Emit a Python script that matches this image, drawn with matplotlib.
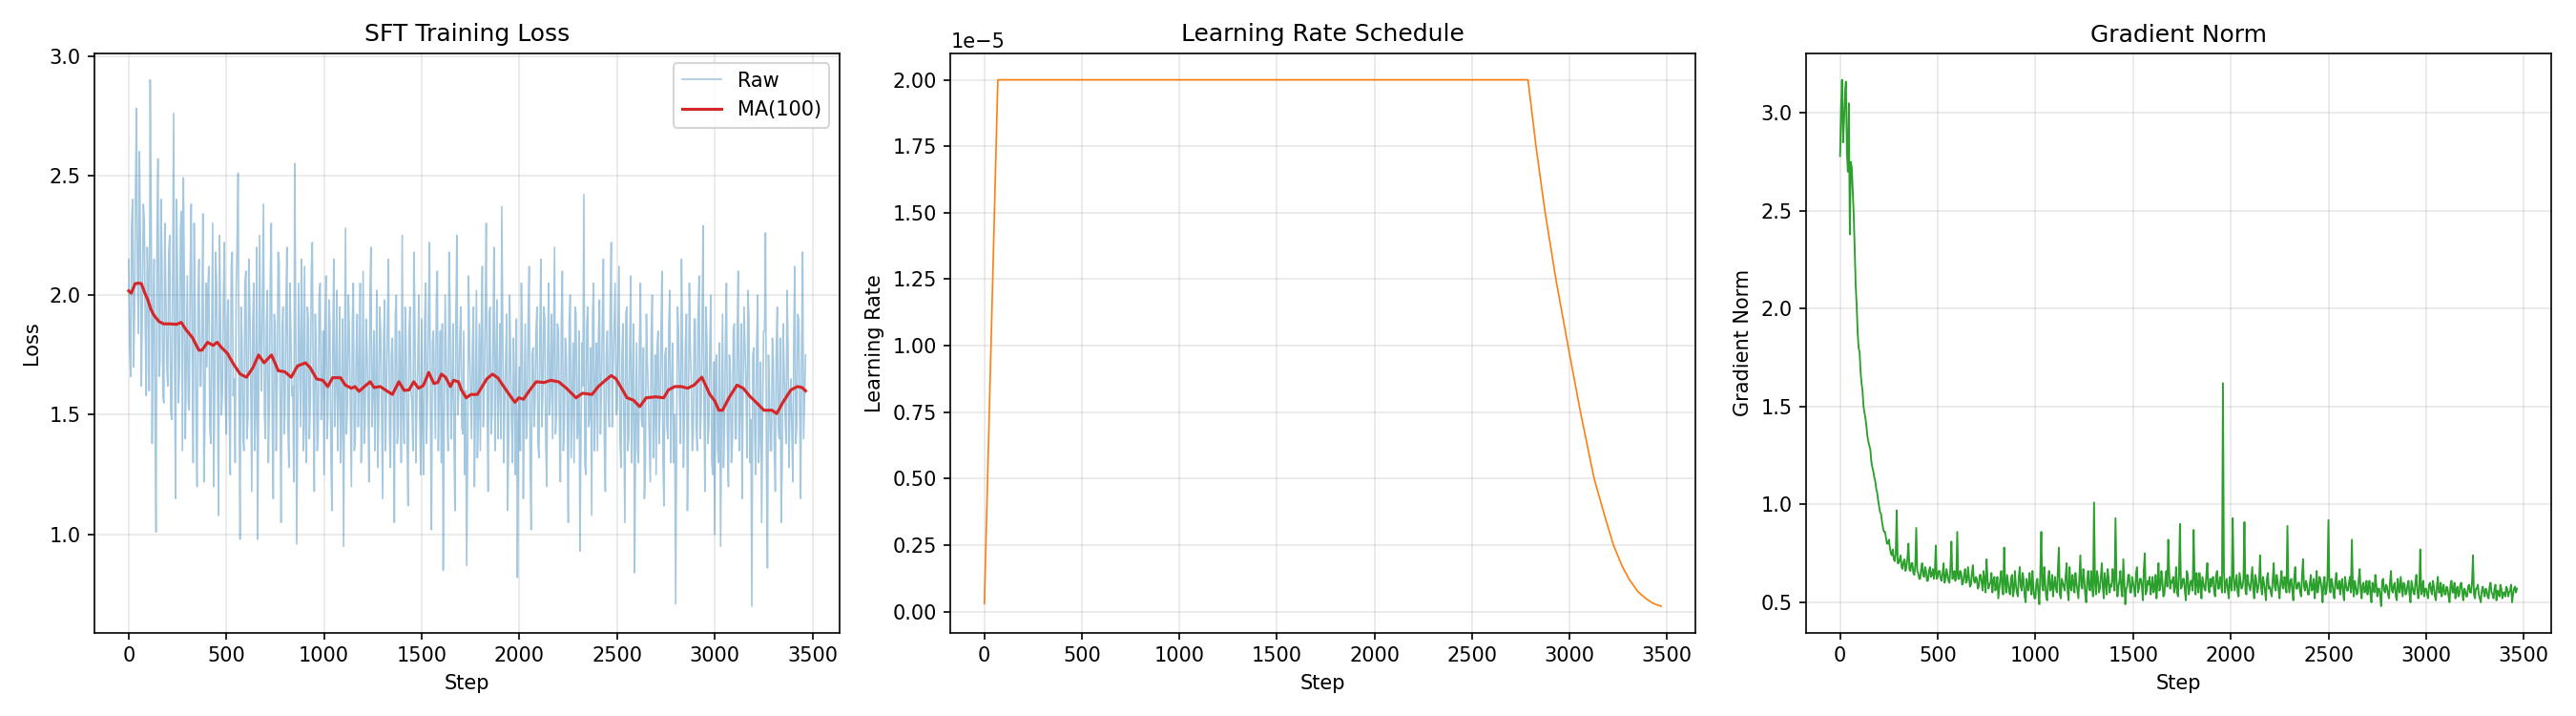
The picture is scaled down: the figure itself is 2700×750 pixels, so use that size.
import numpy as np
import matplotlib
matplotlib.use("Agg")
import matplotlib.pyplot as plt

# raw loss; steps 0, 10, 20, ...
raw_loss_a = [
    2.15, 1.66, 2.40, 1.92, 2.78, 1.84, 2.22, 1.95, 2.31, 1.58,
    2.05, 2.90, 1.38, 2.15, 1.01, 2.57, 1.72, 2.18, 1.55, 2.02,
    1.62, 2.25, 1.48, 2.76, 1.15, 2.10, 1.70, 2.35, 2.49, 1.40,
    2.08, 1.52, 2.38, 1.30, 1.95, 1.20, 2.15, 1.62, 2.34, 1.45,
    1.70, 2.12, 1.38, 2.30, 1.55, 2.05, 1.08, 1.90, 1.60, 2.22,
    1.42, 1.98, 1.25, 2.18, 1.65, 2.00, 2.51, 0.98, 1.82, 1.35,
    2.10, 1.48, 1.95, 1.18, 2.05, 1.52, 0.98, 2.25, 1.60, 2.38,
    1.40, 2.02, 1.55, 2.30, 1.15, 1.88, 1.62, 2.14, 1.05, 1.95,
    1.50, 2.20, 1.28, 1.85, 1.62, 2.55, 0.96, 2.05, 1.45, 1.78,
    2.12, 1.30, 1.90, 1.55, 2.22, 1.18, 1.75, 1.42, 2.05, 1.60,
    1.25, 2.08, 1.50, 1.88, 1.10, 2.15, 1.62, 1.35, 1.95, 1.48,
    0.95, 2.28, 1.55, 1.82, 1.20, 2.05, 1.40, 1.92, 1.68, 1.30,
    2.10, 1.45, 1.78, 1.22, 2.20, 1.58, 1.35, 2.02, 1.50, 1.85,
    1.15, 1.98, 1.60, 2.15, 1.28, 1.82, 1.05, 2.00, 1.45, 1.70,
    2.25, 1.38, 1.80, 1.12, 1.95, 1.55, 2.18, 1.30, 1.72, 1.48,
    1.90, 1.25, 2.05, 1.58, 2.22, 1.02, 1.85, 1.40, 2.10, 1.62,
    1.30, 0.85, 2.00, 1.52, 2.18, 1.40, 1.88, 1.10, 2.25, 1.60,
    1.95, 1.42, 1.25, 0.87, 2.08, 1.58, 1.80, 1.20, 2.02, 1.50,
    1.35, 2.12, 1.62, 2.30, 1.18, 1.95, 1.50, 2.20, 1.72, 1.40,
    1.88, 2.37, 1.30, 1.75, 1.10, 2.00, 1.45, 1.82, 1.25, 0.82,
    1.70, 2.05, 1.15, 1.88, 1.48, 2.12, 1.02, 1.78, 1.55, 1.95,
    1.32, 2.15, 1.58, 1.90, 1.20, 2.05, 1.62, 1.40, 2.20, 1.50,
    1.85, 1.22, 2.10, 1.45, 1.75, 1.05, 2.00, 1.55, 1.30, 1.92,
    1.42, 0.93, 1.80, 2.42, 1.25, 1.95, 1.50, 1.08, 2.05, 1.62,
    1.35, 1.98, 1.60, 2.15, 1.18, 1.85, 1.45, 2.22, 1.70, 2.05,
    1.52, 2.12, 1.28, 1.88, 1.05, 1.95, 1.40, 2.08, 1.62, 0.84,
    1.80, 1.30, 2.05, 1.45, 1.15, 1.92, 1.58, 1.22, 2.00, 1.48,
    1.25, 1.85, 1.52, 2.10, 1.12, 1.78, 1.40, 2.02, 1.60, 1.30,
    0.71, 1.95, 1.55, 2.15, 1.28, 1.80, 1.10, 2.05, 1.65, 1.42,
    1.90, 1.35, 2.08, 1.50, 2.29, 1.18, 1.82, 1.45, 2.00, 1.25,
    1.00, 1.75, 1.30, 0.95, 1.92, 1.45, 2.05, 1.20, 1.68, 1.38,
    1.88, 1.40, 2.10, 1.55, 1.15, 1.95, 1.62, 2.02, 1.30, 0.70,
    1.78, 1.25, 2.00, 1.42, 1.05, 1.85, 2.26, 0.86, 1.60, 1.35,
    1.72, 1.18, 1.95, 1.40, 1.05, 1.88, 1.50, 2.02, 1.28, 1.65,
    1.22, 2.12, 1.45, 1.90, 1.15, 2.18, 1.58,
]
# raw loss at steps 5, 15, 25, ...
raw_loss_b = [
    1.78, 2.30, 1.70, 2.45, 2.05, 2.60, 1.62, 2.38, 1.85, 2.20,
    1.60, 2.35, 1.92, 1.48, 2.28, 1.66, 2.40, 1.58, 2.30, 1.70,
    2.18, 1.52, 2.05, 1.70, 2.40, 1.55, 2.28, 1.35, 2.05, 1.72,
    1.55, 2.10, 1.75, 2.30, 1.48, 2.00, 1.62, 1.90, 1.22, 2.05,
    2.02, 1.45, 1.85, 1.20, 2.18, 1.62, 2.25, 1.50, 2.00, 1.55,
    1.90, 1.50, 2.12, 1.58, 1.30, 2.22, 1.55, 1.95, 1.40, 2.05,
    1.40, 2.15, 1.62, 1.88, 1.35, 2.20, 1.55, 1.80, 1.98, 1.50,
    1.88, 1.30, 2.08, 1.48, 1.92, 1.35, 2.18, 1.55, 1.85, 1.42,
    1.95, 1.45, 2.05, 1.58, 1.22, 1.90, 1.50, 1.75, 2.15, 1.35,
    1.45, 1.95, 1.40, 2.10, 1.58, 1.92, 1.35, 2.00, 1.48, 1.85,
    1.85, 1.40, 1.98, 1.35, 1.80, 1.45, 2.02, 1.58, 1.30, 1.90,
    1.70, 1.42, 2.00, 1.50, 1.88, 1.35, 1.78, 1.45, 2.05, 1.55,
    1.38, 1.90, 1.55, 2.00, 1.45, 1.85, 1.62, 1.28, 1.95, 1.48,
    1.82, 1.35, 1.90, 1.42, 1.75, 1.55, 1.92, 1.38, 1.85, 1.30,
    1.50, 1.95, 1.40, 1.85, 1.60, 1.35, 1.90, 1.55, 2.00, 1.25,
    1.45, 1.88, 1.38, 1.95, 1.48, 1.80, 1.62, 1.98, 1.35, 1.85,
    1.88, 1.48, 1.75, 1.35, 1.95, 1.60, 1.42, 1.90, 1.50, 1.82,
    1.45, 1.85, 1.60, 1.35, 1.78, 1.40, 1.95, 1.52, 1.32, 1.88,
    1.85, 1.45, 1.90, 1.55, 1.92, 1.42, 1.80, 1.35, 1.98, 1.60,
    1.40, 1.85, 1.55, 1.92, 1.38, 1.75, 1.30, 1.62, 1.90, 1.45,
    1.35, 1.82, 1.55, 1.40, 1.90, 1.30, 1.75, 1.45, 1.85, 1.38,
    1.85, 1.45, 1.95, 1.38, 1.78, 1.50, 1.92, 1.82, 1.42, 1.88,
    1.45, 1.90, 1.35, 1.82, 1.50, 1.88, 1.32, 1.80, 1.95, 1.40,
    1.85, 1.40, 1.62, 1.30, 1.88, 1.45, 1.78, 1.92, 1.35, 1.80,
    1.85, 1.42, 1.90, 1.38, 1.75, 1.55, 1.95, 1.45, 1.88, 1.50,
    1.82, 1.40, 1.75, 1.48, 1.92, 1.35, 1.80, 1.30, 1.88, 1.45,
    1.35, 1.82, 1.48, 1.78, 1.30, 1.72, 1.40, 1.85, 1.32, 1.75,
    1.78, 1.38, 1.85, 1.32, 1.75, 1.45, 1.88, 1.30, 1.80, 1.50,
    1.45, 1.85, 1.38, 1.80, 1.50, 1.92, 1.42, 1.78, 1.35, 1.90,
    1.45, 1.92, 1.40, 1.85, 1.52, 1.95, 1.38, 1.80, 1.30, 1.72,
    1.72, 1.35, 1.80, 1.50, 1.28, 1.82, 1.40, 1.75, 1.30, 1.85,
    1.40, 1.85, 1.35, 1.88, 1.58, 1.78, 1.32, 1.90, 1.48, 1.75,
    1.40, 1.80, 1.30, 1.72, 1.48, 1.85, 1.28, 1.75, 1.35, 1.82,
    1.35, 1.78, 1.45, 1.82, 1.28, 1.70, 1.38, 1.80, 1.55, 1.42,
    1.85, 1.38, 1.92, 1.50, 1.80, 1.40, 1.75,
]

# gradient norm at steps 0, 10, 20, ...
grad_norm_a = [
    2.78, 3.17, 2.95, 3.16, 2.70, 2.38, 2.72, 2.48, 2.12, 1.88,
    1.78, 1.62, 1.50, 1.44, 1.35, 1.30, 1.22, 1.17, 1.12, 1.06,
    0.99, 0.95, 0.88, 0.86, 0.80, 0.82, 0.75, 0.77, 0.71, 0.97,
    0.70, 0.74, 0.67, 0.72, 0.68, 0.80, 0.66, 0.70, 0.64, 0.88,
    0.65, 0.62, 0.70, 0.63, 0.66, 0.61, 0.68, 0.64, 0.62, 0.79,
    0.63, 0.66, 0.61, 0.70, 0.62, 0.64, 0.60, 0.81, 0.63, 0.61,
    0.86, 0.62, 0.65, 0.60, 0.67, 0.61, 0.63, 0.59, 0.69, 0.60,
    0.62, 0.58, 0.64, 0.56, 0.61, 0.72, 0.57, 0.60, 0.55, 0.63,
    0.58, 0.52, 0.62, 0.57, 0.78, 0.55, 0.60, 0.54, 0.64, 0.56,
    0.59, 0.53, 0.68, 0.56, 0.61, 0.50, 0.58, 0.65, 0.54, 0.57,
    0.52, 0.62, 0.49, 0.86, 0.56, 0.60, 0.51, 0.66, 0.57, 0.53,
    0.63, 0.55, 0.78, 0.52, 0.60, 0.56, 0.70, 0.51, 0.58, 0.64,
    0.55, 0.60, 0.52, 0.74, 0.57, 0.62, 0.50, 0.66, 0.56, 0.59,
    1.01, 0.54, 0.63, 0.57, 0.70, 0.52, 0.60, 0.67, 0.55, 0.58,
    0.62, 0.93, 0.53, 0.61, 0.56, 0.72, 0.49, 0.58, 0.64, 0.55,
    0.60, 0.53, 0.68, 0.57, 0.62, 0.51, 0.75, 0.56, 0.59, 0.54,
    0.63, 0.57, 0.52, 0.70, 0.58, 0.61, 0.54, 0.66, 0.82, 0.57,
    0.60, 0.55, 0.68, 0.53, 0.90, 0.58, 0.62, 0.51, 0.64, 0.57,
    0.61, 0.87, 0.54, 0.59, 0.65, 0.52, 0.60, 0.56, 0.70, 0.55,
    0.58, 0.63, 0.53, 0.66, 0.57, 0.60, 1.62, 0.55, 0.62, 0.52,
    0.59, 0.93, 0.56, 0.64, 0.53, 0.61, 0.58, 0.91, 0.54, 0.60,
    0.56, 0.68, 0.52, 0.62, 0.57, 0.74, 0.54, 0.60, 0.51, 0.65,
    0.58, 0.53, 0.70, 0.56, 0.61, 0.52, 0.66, 0.57, 0.60, 0.89,
    0.55, 0.62, 0.51, 0.68, 0.57, 0.60, 0.53, 0.72, 0.56, 0.59,
    0.54, 0.64, 0.57, 0.52, 0.66, 0.58, 0.61, 0.50, 0.63, 0.56,
    0.92, 0.55, 0.60, 0.52, 0.65, 0.57, 0.54, 0.62, 0.51, 0.59,
    0.56, 0.63, 0.82, 0.53, 0.58, 0.55, 0.67, 0.52, 0.60, 0.56,
    0.54, 0.61, 0.50, 0.58, 0.64, 0.53, 0.57, 0.48, 0.62, 0.55,
    0.58, 0.52, 0.66, 0.55, 0.60, 0.51, 0.57, 0.63, 0.53, 0.59,
    0.55, 0.61, 0.50, 0.58, 0.54, 0.64, 0.52, 0.77, 0.56, 0.53,
    0.57, 0.52, 0.60, 0.54, 0.58, 0.51, 0.63, 0.55, 0.53, 0.59,
    0.54, 0.57, 0.50, 0.61, 0.55, 0.52, 0.58, 0.54, 0.60, 0.51,
    0.56, 0.53, 0.59, 0.55, 0.74, 0.52, 0.57, 0.54, 0.50, 0.58,
    0.53, 0.56, 0.52, 0.60, 0.54, 0.57, 0.51, 0.55, 0.59, 0.52,
    0.55, 0.58, 0.53, 0.56, 0.50, 0.57, 0.55,
]
# gradient norm at steps 5, 15, 25, ...
grad_norm_b = [
    3.02, 2.85, 3.10, 2.80, 3.05, 2.75, 2.60, 2.30, 2.02, 1.80,
    1.68, 1.58, 1.47, 1.40, 1.32, 1.28, 1.19, 1.14, 1.08, 1.02,
    0.96, 0.91, 0.86, 0.83, 0.80, 0.78, 0.74, 0.72, 0.75, 0.70,
    0.72, 0.68, 0.71, 0.66, 0.73, 0.67, 0.70, 0.65, 0.69, 0.66,
    0.62, 0.67, 0.64, 0.68, 0.61, 0.66, 0.63, 0.67, 0.65, 0.62,
    0.66, 0.62, 0.65, 0.60, 0.67, 0.61, 0.68, 0.62, 0.66, 0.64,
    0.62, 0.66, 0.59, 0.64, 0.60, 0.68, 0.58, 0.65, 0.61, 0.63,
    0.57, 0.64, 0.60, 0.66, 0.55, 0.62, 0.59, 0.65, 0.61, 0.56,
    0.63, 0.57, 0.66, 0.54, 0.60, 0.64, 0.56, 0.62, 0.53, 0.66,
    0.55, 0.63, 0.58, 0.65, 0.53, 0.62, 0.56, 0.60, 0.66, 0.52,
    0.60, 0.55, 0.65, 0.58, 0.68, 0.53, 0.62, 0.56, 0.64, 0.59,
    0.57, 0.66, 0.54, 0.62, 0.58, 0.64, 0.55, 0.68, 0.56, 0.60,
    0.65, 0.56, 0.63, 0.58, 0.67, 0.54, 0.61, 0.57, 0.66, 0.53,
    0.60, 0.66, 0.55, 0.63, 0.58, 0.65, 0.54, 0.62, 0.59, 0.67,
    0.56, 0.62, 0.58, 0.66, 0.53, 0.61, 0.57, 0.64, 0.55, 0.63,
    0.57, 0.65, 0.55, 0.62, 0.58, 0.67, 0.54, 0.61, 0.63, 0.58,
    0.55, 0.64, 0.60, 0.56, 0.66, 0.53, 0.62, 0.58, 0.65, 0.61,
    0.63, 0.58, 0.55, 0.65, 0.57, 0.62, 0.56, 0.66, 0.54, 0.61,
    0.56, 0.62, 0.65, 0.55, 0.60, 0.63, 0.57, 0.64, 0.58, 0.62,
    0.62, 0.55, 0.64, 0.57, 0.63, 0.55, 0.66, 0.60, 0.56, 0.63,
    0.56, 0.63, 0.60, 0.55, 0.65, 0.57, 0.62, 0.56, 0.64, 0.58,
    0.62, 0.57, 0.64, 0.55, 0.61, 0.58, 0.63, 0.56, 0.62, 0.57,
    0.55, 0.62, 0.58, 0.64, 0.56, 0.61, 0.58, 0.63, 0.55, 0.60,
    0.61, 0.56, 0.63, 0.57, 0.60, 0.55, 0.64, 0.58, 0.61, 0.54,
    0.60, 0.56, 0.62, 0.58, 0.55, 0.63, 0.57, 0.60, 0.54, 0.62,
    0.58, 0.62, 0.55, 0.60, 0.57, 0.61, 0.59, 0.55, 0.63, 0.56,
    0.60, 0.55, 0.58, 0.61, 0.54, 0.62, 0.56, 0.59, 0.55, 0.61,
    0.58, 0.54, 0.60, 0.55, 0.59, 0.57, 0.53, 0.61, 0.56, 0.59,
    0.54, 0.60, 0.56, 0.59, 0.53, 0.62, 0.55, 0.58, 0.60, 0.54,
    0.59, 0.54, 0.61, 0.55, 0.60, 0.56, 0.58, 0.54, 0.61, 0.57,
    0.54, 0.59, 0.56, 0.61, 0.53, 0.58, 0.55, 0.60, 0.57, 0.54,
    0.58, 0.53, 0.59, 0.55, 0.60, 0.56, 0.53, 0.59, 0.55, 0.57,
    0.53, 0.58, 0.55, 0.60, 0.54, 0.57, 0.59, 0.52, 0.56, 0.55,
    0.57, 0.53, 0.58, 0.55, 0.52, 0.59, 0.56, 0.53, 0.57, 0.55,
    0.53, 0.57, 0.55, 0.59, 0.54, 0.58, 0.57,
]

# moving average, read at irregular steps
ma_steps = [0, 13, 33, 49, 65, 82, 98, 114, 130, 155, 179, 212, 245, 269, 293,
            326, 359, 375, 404, 432, 453, 473, 505, 538, 571, 603, 636, 665,
            693, 731, 766, 799, 832, 864, 905, 929, 962, 994, 1019, 1044, 1084,
            1109, 1141, 1158, 1179, 1207, 1236, 1256, 1288, 1321, 1350, 1383,
            1410, 1435, 1459, 1484, 1508, 1536, 1562, 1582, 1601, 1622, 1647,
            1663, 1688, 1703, 1728, 1752, 1785, 1809, 1834, 1863, 1891, 1915,
            1948, 1977, 1997, 2021, 2054, 2086, 2127, 2160, 2201, 2241, 2290,
            2323, 2372, 2404, 2440, 2470, 2494, 2518, 2551, 2584, 2616, 2649,
            2698, 2739, 2763, 2796, 2828, 2861, 2894, 2934, 2975, 3000, 3021,
            3040, 3073, 3114, 3146, 3179, 3212, 3252, 3293, 3317, 3349, 3390,
            3423, 3447, 3465]
ma_loss = [2.018, 2.008, 2.048, 2.05, 2.048, 2.01, 1.98, 1.94, 1.915, 1.89,
           1.88, 1.88, 1.878, 1.886, 1.856, 1.823, 1.77, 1.77, 1.803, 1.79,
           1.803, 1.783, 1.757, 1.71, 1.67, 1.657, 1.697, 1.75, 1.717, 1.75,
           1.684, 1.68, 1.657, 1.704, 1.717, 1.697, 1.65, 1.644, 1.618, 1.655,
           1.655, 1.624, 1.611, 1.618, 1.598, 1.618, 1.638, 1.614, 1.618, 1.60,
           1.585, 1.638, 1.602, 1.604, 1.638, 1.611, 1.622, 1.677, 1.631,
           1.635, 1.67, 1.657, 1.618, 1.644, 1.638, 1.604, 1.571, 1.585, 1.585,
           1.618, 1.651, 1.67, 1.653, 1.624, 1.585, 1.552, 1.571, 1.565, 1.604,
           1.638, 1.635, 1.644, 1.638, 1.611, 1.571, 1.59, 1.585, 1.618, 1.644,
           1.664, 1.651, 1.618, 1.571, 1.561, 1.534, 1.571, 1.575, 1.571, 1.604,
           1.618, 1.618, 1.611, 1.624, 1.657, 1.585, 1.558, 1.519, 1.519,
           1.571, 1.624, 1.611, 1.578, 1.552, 1.519, 1.519, 1.505, 1.552,
           1.604, 1.618, 1.614, 1.60]

# learning rate (x1e-5) at warmup / stable / decay points
lr_steps = [1, 70, 2787, 2828, 2875, 2930, 2992, 3056, 3126, 3180, 3225,
            3270, 3307, 3350, 3389, 3430, 3470]
lr_vals = [0.03, 2.00, 2.00, 1.75, 1.50, 1.25, 1.00, 0.75, 0.50, 0.36, 0.25,
           0.17, 0.12, 0.075, 0.05, 0.03, 0.02]


def interleave(a, b):
    return np.column_stack([a, b]).ravel()


raw_loss = interleave(raw_loss_a, raw_loss_b)
grad_norm = interleave(grad_norm_a, grad_norm_b)
steps = np.arange(len(raw_loss)) * 5

fig, axes = plt.subplots(1, 3, figsize=(18, 5))

ax = axes[0]
ax.plot(steps, raw_loss, color="tab:blue", alpha=0.4, linewidth=0.8, label="Raw")
ax.plot(ma_steps, ma_loss, color="tab:red", linewidth=1.5, label="MA(100)")
ax.set_title("SFT Training Loss")
ax.set_xlabel("Step")
ax.set_ylabel("Loss")
ax.legend()
ax.grid(True, alpha=0.3)

ax = axes[1]
ax.plot(lr_steps, np.array(lr_vals) * 1e-5, color="tab:orange", linewidth=0.8)
ax.set_title("Learning Rate Schedule")
ax.set_xlabel("Step")
ax.set_ylabel("Learning Rate")
ax.grid(True, alpha=0.3)

ax = axes[2]
ax.plot(steps, grad_norm, color="tab:green", linewidth=0.9)
ax.set_title("Gradient Norm")
ax.set_xlabel("Step")
ax.set_ylabel("Gradient Norm")
ax.grid(True, alpha=0.3)

plt.tight_layout()
plt.savefig("out.png", dpi=150)
